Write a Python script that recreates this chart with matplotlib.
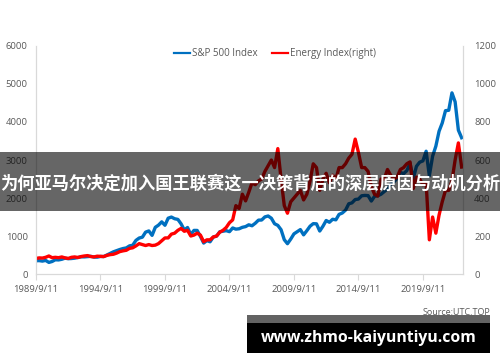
import numpy as np
import pandas as pd
import matplotlib
matplotlib.use("Agg")
import matplotlib.pyplot as plt
from matplotlib.patches import Rectangle

# quarterly readings, 1989/9 .. 2022/9
spx = [350, 353,
       340, 358, 306, 330,
       375, 371, 388, 417,
       404, 408, 418, 436,
       452, 451, 459, 466,
       446, 444, 463, 459,
       501, 545, 584, 616,
       645, 671, 687, 741,
       757, 885, 947, 970,
       1102, 1134, 1017, 1229,
       1286, 1373, 1283, 1469,
       1499, 1455, 1437, 1320,
       1160, 1224, 1041, 1148,
       1147, 990, 815, 880,
       848, 975, 996, 1112,
       1126, 1141, 1115, 1212,
       1181, 1191, 1229, 1248,
       1295, 1270, 1336, 1418,
       1421, 1503, 1527, 1468,
       1323, 1280, 1166, 903,
       798, 919, 1057, 1115,
       1169, 1031, 1141, 1258,
       1326, 1321, 1131, 1258,
       1408, 1362, 1441, 1426,
       1569, 1606, 1682, 1848,
       1872, 1960, 1972, 2059,
       2068, 2063, 1920, 2044,
       2060, 2099, 2168, 2239,
       2363, 2423, 2519, 2674,
       2641, 2718, 2914, 2507,
       2834, 2942, 2977, 3231,
       2585, 3100, 3363, 3756,
       3973, 4298, 4308, 4766,
       4530, 3785, 3586]

energy = [82, 85,
          84, 88, 95, 86,
          88, 86, 90, 85,
          82, 88, 90, 87,
          92, 95, 97, 92,
          90, 94, 93, 92,
          98, 102, 104, 110,
          118, 122, 125, 135,
          138, 148, 160, 155,
          150, 155, 150, 152,
          160, 175, 190, 190,
          210, 215, 230, 240,
          225, 230, 200, 205,
          215, 205, 170, 180,
          180, 195, 200, 220,
          230, 245, 270, 285,
          360, 345, 420, 385,
          430, 480, 470, 490,
          500, 540, 570, 600,
          560, 660, 500, 360,
          320, 380, 400, 420,
          440, 390, 420, 490,
          580, 560, 440, 500,
          530, 480, 520, 500,
          560, 560, 580, 610,
          630, 710, 640, 560,
          560, 540, 460, 420,
          410, 500, 500, 550,
          520, 500, 510, 550,
          560, 580, 590, 450,
          510, 500, 470, 480,
          180, 300, 215, 310,
          380, 440, 440, 490,
          600, 690, 563]

dates = pd.date_range("1989-09-11", periods=len(spx), freq=pd.DateOffset(months=3))
tick_dates = pd.date_range("1989-09-11", periods=7, freq=pd.DateOffset(years=5))
tick_labels = ["1989/9/11", "1994/9/11", "1999/9/11", "2004/9/11",
               "2009/9/11", "2014/9/11", "2019/9/11"]

title = "为何亚马尔决定加入国王联赛这一决策背后的深层原因与动机分析"
site = "www.zhmo-kaiyuntiyu.com"

plt.rcParams["font.family"] = ["Open Sans", "DejaVu Sans"]
grey = "#595959"
spine_c = "#d9d9d9"

fig = plt.figure(figsize=(5, 3.62), dpi=100)
ax = fig.add_axes([0.072, 0.243, 0.854, 0.630])
ax2 = ax.twinx()

l1, = ax.plot(dates, spx, color="#0070C0", lw=2.4, label="S&P 500 Index")
l2, = ax2.plot(dates, energy, color="#FF0000", lw=2.4, label="Energy Index(right)")

ax.set_ylim(0, 6000)
ax2.set_ylim(0, 1200)
ax.set_xlim(dates[0], pd.Timestamp("2022-10-20"))
ax.set_yticks(np.arange(0, 6001, 1000))
ax2.set_yticks(np.arange(0, 1201, 200))
ax.set_xticks(tick_dates)
ax.set_xticklabels(tick_labels)

for a in (ax, ax2):
    for s in a.spines.values():
        s.set_color(spine_c)
    a.spines["top"].set_visible(False)
    a.tick_params(labelsize=6.8, colors=grey)
ax.tick_params(axis="y", length=0, pad=6)
ax.tick_params(axis="x", length=4, color=spine_c, pad=4)
ax2.tick_params(axis="y", length=0, pad=8)

leg = fig.legend(handles=[l1, l2], loc="center", bbox_to_anchor=(0.55, 0.851), ncol=2,
                 frameon=False, fontsize=7, handlelength=1.6, handletextpad=0.2,
                 columnspacing=1.5, labelcolor=grey)
for ln in leg.get_lines():
    ln.set_linewidth(1.6)

# overlay banner
fig.add_artist(Rectangle((0, 0.417), 1, 0.163, transform=fig.transFigure,
                         color="black", alpha=0.6, lw=0, zorder=10))
fig.text(0.5, 0.494, title, color="white", fontsize=12.4, fontweight="bold",
         family=["Noto Sans CJK SC", "DejaVu Sans"], ha="center", va="center", zorder=11)

fig.text(0.98, 0.138, "Source:UTC.TOP", color=grey, fontsize=6.5, ha="right", va="center")
fig.add_artist(Rectangle((0.494, 0.025), 0.486, 0.105, transform=fig.transFigure,
                         color="black", lw=0, zorder=10))
fig.add_artist(Rectangle((0.494, 0.108), 0.486, 0.022, transform=fig.transFigure,
                         color="#636363", lw=0, zorder=10))
fig.text(0.737, 0.066, site, color="white", fontsize=11.3, fontweight="bold",
         ha="center", va="center", zorder=11)

fig.savefig("out.png", dpi=100)
